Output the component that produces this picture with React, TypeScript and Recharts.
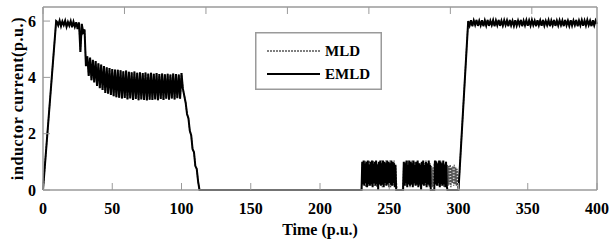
import { LineChart, Line, XAxis, YAxis, Legend } from "recharts"

const FONT = "Liberation Serif"
const FRAME = "#9a9a9a"

const X_TICKS = [0, 50, 100, 150, 200, 250, 300, 350, 400]
const Y_TICKS = [0, 2, 4, 6]

// start-up ramp (time, current)
const rampTime = [0, 9.5]
const rampValues = [0, 6.0]

// current held at the limit, t = 10..31 step 1
const limitStart = 10
const limitValues = [
  5.98, 5.85, 6.02, 5.82, 5.99, 5.86, 6.01, 5.8, 5.97, 5.84, 6.0,
  5.78, 5.98, 5.8, 5.96, 5.72, 5.95, 4.9, 5.9, 5.6, 5.7, 4.4,
]

// settling band, t = 32..100 step 1
const bandStart = 32
const bandValues = [
  4.75, 4.05, 4.7, 3.9, 4.62, 3.82, 4.58, 3.7, 4.5, 3.62,
  4.46, 3.55, 4.4, 3.45, 4.36, 3.42, 4.33, 3.38, 4.3, 3.33,
  4.28, 3.3, 4.27, 3.28, 4.25, 3.25, 4.22, 3.27, 4.24, 3.22,
  4.2, 3.25, 4.18, 3.2, 4.21, 3.23, 4.16, 3.19, 4.18, 3.22,
  4.15, 3.2, 4.17, 3.18, 4.14, 3.21, 4.16, 3.2, 4.13, 3.22,
  4.15, 3.19, 4.12, 3.23, 4.14, 3.2, 4.11, 3.24, 4.13, 3.21,
  4.1, 3.25, 4.14, 3.22, 4.12, 3.26, 4.1, 3.24, 4.15,
]

// decay to zero, t = 101..113 step 1
const fallStart = 101
const fallValues = [3.6, 3.35, 3.1, 2.7, 2.55, 2.1, 1.95, 1.45, 1.35, 0.85, 0.75, 0.3, 0]

// light-load bursts, t = 230..300 step 0.5
const burstStart = 230
const burstStep = 0.5
const emldBurst = [
  0,
  1.0, 0.2, 1.05, 0.15, 0.95, 0.25, 1.0, 0.1, 1.05, 0.2, 0.9, 0.15, 1.0, 0.2, 1.05, 0.1, 0.95, 0.25, 1.0, 0.15, 1.05, 0.2, 0.9,
  0,
  1.0, 0.2, 1.05, 0.15, 0.95, 0.2, 1.05, 0.1, 1.0, 0.25, 0.95, 0.15, 1.05, 0.2, 1.0, 0.1, 0.95, 0.2, 1.05, 0.15, 1.0, 0.25, 0.95, 0.1, 0.9,
  0, 0, 0, 0, 0, 0, 0, 0, 0, 0, 0,
  1.0, 0.15, 0.95, 0.25, 1.05, 0.1, 0.9, 0.2, 1.05, 0.15, 1.0, 0.2, 0.95, 0.1, 1.05, 0.25, 0.9, 0.15, 1.0, 0.2, 1.05, 0.1, 0.95, 0.2, 0.9,
  0,
  1.0, 0.2, 1.05, 0.15, 0.9, 0.25, 1.0, 0.1, 0.95, 0.2, 1.05, 0.15, 0.9,
  0, 0, 0, 0, 0, 0,
  1.05, 0.2, 1.0, 0.15, 0.95, 0.25, 1.05, 0.1, 1.0, 0.2, 0.95, 0.15, 1.05, 0.2, 0.9, 0.1, 1.0, 0.15,
  0, 0, 0, 0, 0, 0, 0, 0, 0, 0, 0, 0, 0, 0, 0, 0, 0,
]
const mldBurst = [
  0,
  0.95, 0.25, 1.0, 0.2, 1.05, 0.1, 0.95, 0.2, 1.0, 0.15, 1.05, 0.25, 0.9, 0.15, 1.0, 0.2, 1.05, 0.15, 0.95, 0.2, 1.0, 0.1, 0.95,
  0.5,
  0.95, 0.25, 1.0, 0.2, 1.05, 0.1, 0.95, 0.2, 1.0, 0.15, 1.05, 0.2, 0.95, 0.25, 1.0, 0.15, 1.05, 0.1, 0.95, 0.2, 1.0, 0.15, 1.05, 0.2, 0.85,
  0.4, 0, 0, 0, 0, 0, 0, 0, 0, 0, 0.3,
  0.95, 0.2, 1.0, 0.15, 0.95, 0.2, 1.05, 0.25, 1.0, 0.1, 0.95, 0.2, 1.05, 0.15, 0.9, 0.2, 1.0, 0.25, 0.95, 0.15, 1.0, 0.2, 0.9, 0.15, 0.95,
  0.7,
  0.95, 0.25, 1.0, 0.2, 0.95, 0.15, 1.05, 0.2, 0.9, 0.25, 1.0, 0.1, 0.95,
  0.2, 0.85, 0.1, 0.8, 0.15, 0.9,
  1.0, 0.25, 1.05, 0.2, 0.9, 0.15, 1.0, 0.2, 1.05, 0.15, 0.95, 0.25, 1.0, 0.1, 0.95, 0.2, 1.0, 0.2,
  0.9, 0.15, 0.85, 0.2, 0.9, 0.1, 0.8, 0.25, 0.85, 0.15, 0.9, 0.2, 0.8, 0.15, 0.75, 0.2, 0,
]

// back at the limit, t = 307..400 step 1
const holdStart = 307
const holdValues = [
  6.0, 5.84, 6.03, 5.82, 6.02, 5.86, 6.04, 5.83, 6.01, 5.85,
  6.03, 5.82, 6.02, 5.84, 6.04, 5.83, 6.01, 5.86, 6.03, 5.82,
  6.02, 5.85, 6.04, 5.83, 6.01, 5.84, 6.03, 5.86, 6.02, 5.82,
  6.04, 5.85, 6.01, 5.83, 6.03, 5.84, 6.02, 5.86, 6.04, 5.82,
  6.01, 5.85, 6.03, 5.83, 6.02, 5.84, 6.04, 5.86, 6.01, 5.82,
  6.03, 5.85, 6.02, 5.83, 6.04, 5.84, 6.01, 5.86, 6.03, 5.82,
  6.02, 5.85, 6.04, 5.83, 6.01, 5.84, 6.03, 5.86, 6.02, 5.82,
  6.04, 5.85, 6.01, 5.83, 6.03, 5.84, 6.02, 5.86, 6.04, 5.82,
  6.01, 5.85, 6.03, 5.83, 6.02, 5.84, 6.04, 5.86, 6.01, 5.82,
  6.03, 5.85, 6.02, 5.9,
]

interface Row {
  t: number
  mld: number
  emld: number
}

function buildRows(): Row[] {
  const rows: Row[] = []
  rampTime.forEach((t, i) => rows.push({ t, mld: rampValues[i], emld: rampValues[i] }))
  limitValues.forEach((v, i) => rows.push({ t: limitStart + i, mld: v, emld: v }))
  bandValues.forEach((v, i) => rows.push({ t: bandStart + i, mld: v, emld: v }))
  fallValues.forEach((v, i) => rows.push({ t: fallStart + i, mld: v, emld: v }))
  emldBurst.forEach((v, i) => rows.push({ t: burstStart + i * burstStep, mld: mldBurst[i], emld: v }))
  holdValues.forEach((v, i) => rows.push({ t: holdStart + i, mld: v, emld: v }))
  return rows
}

const data = buildRows()

const tickStyle = { fill: "#000", fontSize: 16, fontWeight: "bold", fontFamily: FONT }

function LegendBox() {
  return (
    <svg width={127} height={58} style={{ display: "block", background: "#fff" }}>
      <rect x={0.75} y={0.75} width={125.5} height={56.5} fill="#fff" stroke={FRAME} strokeWidth={1.5} />
      <line x1={12} x2={65} y1={19} y2={19} stroke="#555" strokeWidth={1.5} strokeDasharray="2 1" />
      <text x={70} y={19} dominantBaseline="central" fontSize={15} fontWeight="bold" fontFamily={FONT}>
        MLD
      </text>
      <line x1={12} x2={65} y1={42} y2={42} stroke="#000" strokeWidth={2} />
      <text x={70} y={42} dominantBaseline="central" fontSize={15} fontWeight="bold" fontFamily={FONT}>
        EMLD
      </text>
    </svg>
  )
}

function YLabel({ viewBox }: any) {
  const cx = viewBox.x + 17.5
  const cy = viewBox.y + viewBox.height / 2
  return (
    <text
      x={cx}
      y={cy}
      transform={`rotate(-90, ${cx}, ${cy})`}
      textAnchor="middle"
      dominantBaseline="central"
      fontSize={16}
      fontWeight="bold"
      fontFamily={FONT}
      letterSpacing={0.6}
      fill="#000"
    >
      inductor current(p.u.)
    </text>
  )
}

export default function App() {
  return (
    <div style={{ position: "absolute", left: 0, top: 0, width: 609, height: 244, background: "#fff" }}>
      <LineChart width={609} height={244} data={data} margin={{ top: 0, right: 0, bottom: 0, left: 0 }}>
        <XAxis
          dataKey="t"
          type="number"
          domain={[0, 400]}
          ticks={X_TICKS}
          interval={0}
          height={54}
          tickSize={-7}
          tickMargin={20}
          tick={tickStyle}
          stroke={FRAME}
          axisLine={{ stroke: FRAME, strokeWidth: 1.5 }}
          tickLine={{ stroke: FRAME }}
          label={{
            value: "Time (p.u.)",
            position: "insideBottom",
            offset: 9,
            fill: "#000",
            fontSize: 16,
            fontWeight: "bold",
            fontFamily: FONT,
          }}
        />
        <XAxis
          xAxisId="top"
          orientation="top"
          type="number"
          domain={[0, 400]}
          ticks={X_TICKS}
          interval={0}
          height={7}
          tickSize={-7}
          tickFormatter={() => ""}
          axisLine={{ stroke: FRAME, strokeWidth: 1.5 }}
          tickLine={{ stroke: FRAME }}
        />
        <YAxis
          type="number"
          domain={[0, 6.5]}
          ticks={Y_TICKS}
          interval={0}
          width={43}
          tickSize={-7}
          tickMargin={14}
          tick={tickStyle}
          axisLine={{ stroke: FRAME, strokeWidth: 1.5 }}
          tickLine={{ stroke: FRAME }}
          label={YLabel}
        />
        <YAxis
          yAxisId="right"
          orientation="right"
          type="number"
          domain={[0, 6.5]}
          ticks={Y_TICKS}
          interval={0}
          width={12}
          tickSize={-7}
          tickFormatter={() => ""}
          axisLine={{ stroke: FRAME, strokeWidth: 1.5 }}
          tickLine={{ stroke: FRAME }}
        />
        <Legend
          layout="horizontal"
          verticalAlign="middle"
          align="center"
          wrapperStyle={{ left: 255, top: 32, width: 127, height: 58 }}
          content={() => <LegendBox />}
        />
        <Line
          dataKey="mld"
          name="MLD"
          type="linear"
          stroke="#555"
          strokeWidth={1.4}
          strokeDasharray="2 1"
          dot={false}
          isAnimationActive={false}
        />
        <Line
          dataKey="emld"
          name="EMLD"
          type="linear"
          stroke="#000"
          strokeWidth={2}
          dot={false}
          isAnimationActive={false}
        />
      </LineChart>
    </div>
  )
}
